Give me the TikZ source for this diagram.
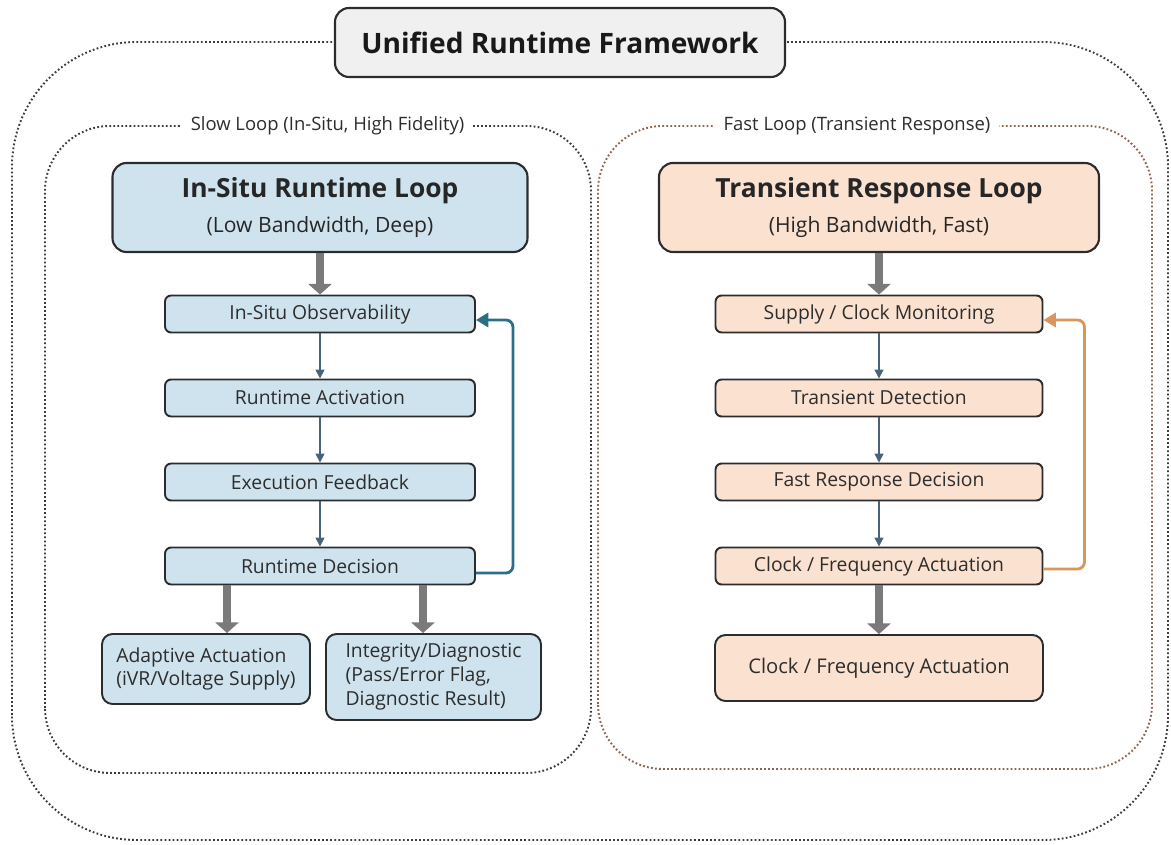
\documentclass[tikz,border=0pt]{standalone}
\usepackage{fontspec}
\setmainfont{Open Sans}
\usetikzlibrary{arrows.meta,calc,positioning}
\definecolor{slowblue}{RGB}{207,227,238}
\definecolor{fastpeach}{RGB}{251,225,208}
\definecolor{titlegray}{RGB}{240,240,240}
\definecolor{edgedark}{RGB}{42,44,46}
\definecolor{textdark}{RGB}{45,45,45}
\definecolor{backblue}{RGB}{45,110,135}
\definecolor{backorange}{RGB}{214,150,92}
\definecolor{stepslate}{RGB}{72,100,122}
\definecolor{fatgray}{RGB}{122,122,122}
\definecolor{dotgray}{RGB}{60,60,60}
\definecolor{dotbrown}{RGB}{140,100,80}
\tikzset{
  dotframe/.style={line width=1.1pt, dash pattern=on 1pt off 1.3pt},
  outerframe/.style={dotframe, draw=dotgray, rounded corners=2.5cm},
  slowframe/.style={dotframe, draw=dotgray, rounded corners=1.3cm},
  fastframe/.style={dotframe, draw=dotbrown, rounded corners=1.3cm},
  framelab/.style={fill=white, inner xsep=5pt, inner ysep=2pt, text=textdark,
                   font=\fontsize{10.5}{12}\selectfont},
  titlebox/.style={draw=edgedark, line width=1.2pt, fill=titlegray,
                   rounded corners=8pt, minimum width=9cm, minimum height=1.38cm,
                   text=black!90, font=\fontsize{16}{19}\selectfont\bfseries},
  headbox/.style={draw=edgedark, line width=1.2pt, rounded corners=8pt,
                  minimum height=1.78cm, align=center, text=black!85,
                  font=\fontsize{12}{20}\selectfont},
  slowheadbox/.style={headbox, fill=slowblue, minimum width=8.3cm},
  fastheadbox/.style={headbox, fill=fastpeach, minimum width=8.8cm},
  stepbox/.style={draw=edgedark, line width=1.1pt, rounded corners=3.5pt,
                  minimum height=0.74cm, inner sep=0pt, text=textdark,
                  font=\fontsize{11}{13}\selectfont},
  slowstep/.style={stepbox, fill=slowblue, minimum width=6.2cm},
  faststep/.style={stepbox, fill=fastpeach, minimum width=6.54cm},
  outbox/.style={draw=edgedark, line width=1.1pt, rounded corners=6pt,
                 align=left, inner sep=0pt, text=textdark,
                 font=\fontsize{11}{13.6}\selectfont},
  fatflow/.style={draw=fatgray, line width=5pt, -{Triangle[length=6pt,width=13pt]}},
  stepflow/.style={draw=stepslate, line width=0.9pt, -{Triangle[length=5pt,width=5pt]}},
  backflow/.style={line width=1.6pt, rounded corners=4pt, -{Triangle[length=7pt,width=8pt]}},
}

\begin{document}
\begin{tikzpicture}[x=1cm,y=1cm]
  \path[use as bounding box] (0,0) rectangle (23.42,16.88);

  % dotted frames and their labels
  \draw[outerframe] (0.24,0.08) rectangle (23.36,16.04);
  \draw[slowframe] (0.9,1.42) rectangle (11.82,14.36);
  \draw[fastframe] (11.96,1.5) rectangle (23.04,14.36);
  \node[framelab] (slowlab) at (6.55,14.36) {Slow Loop (In-Situ, High Fidelity)};
  \node[framelab] (fastlab) at (17.14,14.36) {Fast Loop (Transient Response)};

  \node[titlebox] (ttl) at (11.2,16.03) {Unified Runtime Framework};

  % slow loop
  \node[slowheadbox] (slowhd) at (6.4,12.73)
    {{\fontsize{15}{20}\selectfont\bfseries In-Situ Runtime Loop}\\(Low Bandwidth, Deep)};
  \node[slowstep] (obs) at (6.4,10.6) {In-Situ Observability};
  \node[slowstep] (act) at (6.4,8.92) {Runtime Activation};
  \node[slowstep] (fbk) at (6.4,7.24) {Execution Feedback};
  \node[slowstep] (dec) at (6.4,5.56) {Runtime Decision};
  \node[outbox, fill=slowblue, minimum width=4.16cm, minimum height=1.4cm]
    (adapt) at (4.12,3.5) {Adaptive Actuation\\(iVR/Voltage Supply)};
  \node[outbox, fill=slowblue, minimum width=4.3cm, minimum height=1.72cm]
    (integ) at (8.67,3.34) {Integrity/Diagnostic\\(Pass/Error Flag,\\Diagnostic Result)};

  % fast loop
  \node[fastheadbox] (fasthd) at (17.58,12.73)
    {{\fontsize{15}{20}\selectfont\bfseries Transient Response Loop}\\(High Bandwidth, Fast)};
  \node[faststep] (mon) at (17.58,10.6) {Supply / Clock Monitoring};
  \node[faststep] (det) at (17.58,8.92) {Transient Detection};
  \node[faststep] (fdec) at (17.58,7.24) {Fast Response Decision};
  \node[faststep] (clk) at (17.58,5.56) {Clock / Frequency Actuation};
  \node[stepbox, fill=fastpeach, minimum width=6.56cm, minimum height=1.32cm,
        rounded corners=6pt, font=\fontsize{11.5}{14}\selectfont]
    (clkout) at (17.58,3.52) {Clock / Frequency Actuation};

  \draw[fatflow] (slowhd.south) -- (obs.north);
  \draw[fatflow] (fasthd.south) -- (mon.north);
  \foreach \a/\b in {obs/act,act/fbk,fbk/dec,mon/det,det/fdec,fdec/clk}
    {\draw[stepflow] (\a.south) -- (\b.north);}

  \coordinate (aL) at (4.54,0);
  \coordinate (aR) at (8.46,0);
  \draw[fatflow] (dec.south -| aL) -- (adapt.north -| aL);
  \draw[fatflow] (dec.south -| aR) -- (integ.north -| aR);
  \draw[fatflow] (clk.south) -- (clkout.north);

  \draw[backflow, draw=backblue] ([yshift=-0.14cm]dec.east) -- ++(0.74,0)
    |- ([yshift=-0.12cm]obs.east);
  \draw[backflow, draw=backorange] ([yshift=-0.06cm]clk.east) -- ++(0.82,0)
    |- ([yshift=-0.12cm]mon.east);
\end{tikzpicture}
\end{document}
